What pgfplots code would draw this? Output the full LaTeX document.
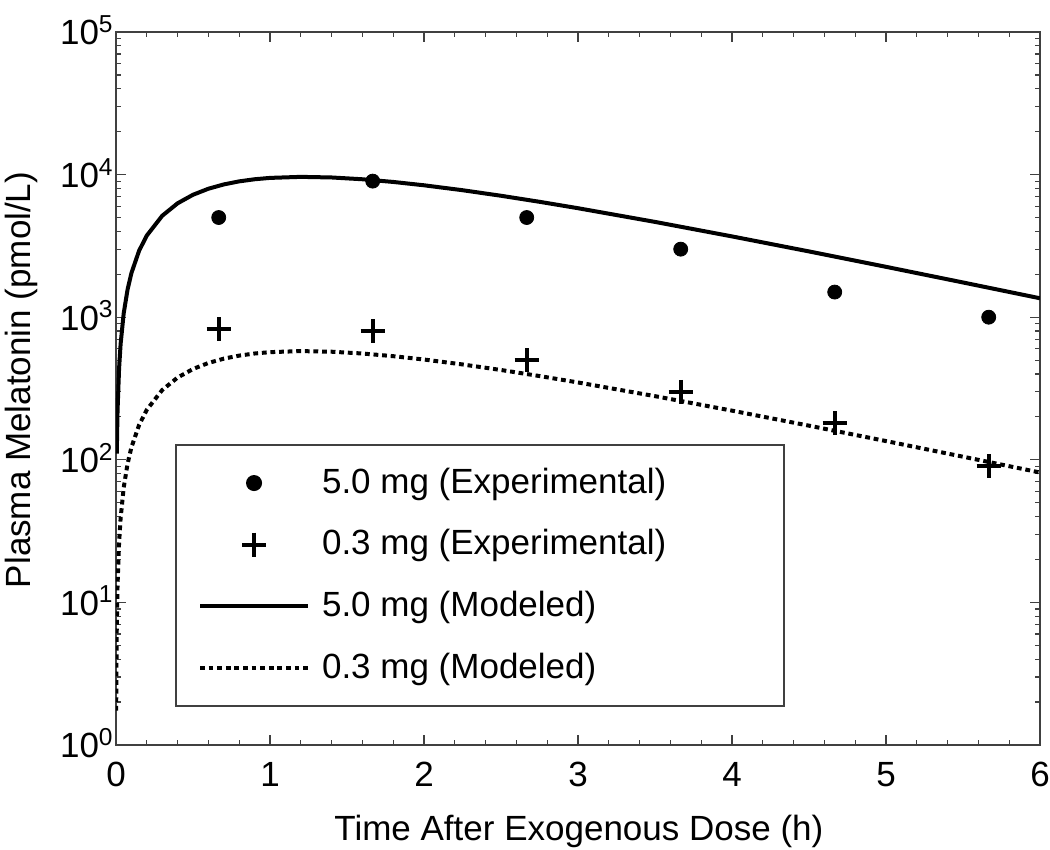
\documentclass[border=0pt]{standalone}
\usepackage{fontspec}
\setmainfont{Liberation Sans}
\usepackage{pgfplots}
\pgfplotsset{compat=1.18}

% 5.0 mg model curve (0.3 mg curve is the same shape, lower)
\pgfplotstableread{
t c
0.005 110.6
0.01 220.2
0.02 436.6
0.03 649.3
0.05 1063.4
0.075 1560.9
0.1 2036.5
0.15 2925.1
0.2 3735.0
0.3 5140.3
0.4 6290.6
0.5 7219.9
0.6 7958.2
0.7 8531.2
0.8 8963.2
0.9 9273.0
1.0 9479.2
1.2 9639.5
1.4 9545.0
1.6 9273.0
1.8 8881.3
2.0 8413.8
2.25 7771.6
2.5 7104.9
2.75 6445.2
3.0 5810.5
3.5 4657.9
4.0 3685.9
4.5 2891.7
5.0 2255.4
5.5 1752.0
6.0 1357.4
}\modelhigh

\pgfplotstableread{
t c
0.0013 1.74
0.002 2.66
0.005 6.64
0.01 13.21
0.02 26.20
0.03 38.96
0.05 63.80
0.075 93.65
0.1 122.19
0.15 175.51
0.2 224.10
0.3 308.42
0.4 377.44
0.5 433.19
0.6 477.49
0.7 511.87
0.8 537.79
0.9 556.38
1.0 568.75
1.2 578.37
1.4 572.70
1.6 556.38
1.8 532.88
2.0 504.83
2.25 466.30
2.5 426.29
2.75 386.71
3.0 348.63
3.5 279.47
4.0 221.15
4.5 173.50
5.0 135.32
5.5 105.12
6.0 81.44
}\modellow

\begin{document}
\fontsize{17.5pt}{20pt}\selectfont
\begin{tikzpicture}[font=\fontsize{17.5pt}{20pt}\selectfont]
\path[use as bounding box] (-58pt,-52.5pt) rectangle (467pt,372.5pt);
\begin{axis}[
    at={(0,0)}, anchor=south west,
    scale only axis, width=462pt, height=356.5pt,
    xmin=0, xmax=6,
    ymode=log, ymin=1, ymax=1e5,
    xtick={0,1,2,3,4,5,6},
    xticklabels={0,1,2,3,4,5,6},
    minor x tick num=4,
    ytick={1,10,100,1000,10000,100000},
    yticklabels={10\textsuperscript{0},10\textsuperscript{1},10\textsuperscript{2},10\textsuperscript{3},10\textsuperscript{4},10\textsuperscript{5}},
    axis line style={black!75, line width=1pt},
    major tick length=5pt, minor tick length=2.5pt,
    every tick/.style={black!75, line width=0.6pt},
    xticklabel style={anchor=base, inner sep=0pt, yshift=-21pt},
    yticklabel style={anchor=base east, inner sep=0pt, xshift=-1pt, yshift=-6.5pt},
    xlabel={Time After Exogenous Dose (h)},
    ylabel={Plasma Melatonin (pmol/L)},
    xlabel style={at={(axis description cs:0.501,0)}, anchor=base, yshift=-48pt},
    ylabel style={at={(axis description cs:-0.1028,0.512)}, anchor=center},
    legend image code/.code={\draw[mark repeat=2,mark phase=2] plot coordinates {(0pt,0pt) (27pt,0pt) (54pt,0pt)};},
    legend cell align=left,
    legend style={at={(0.0639,0.0533)}, anchor=south west,
        draw=black!75, line width=1pt, fill=white,
        inner xsep=11pt, inner ysep=3.5pt,
        row sep=0pt, column sep=6pt,
        nodes={inner sep=0pt, minimum height=30.85pt}},
]
\addplot[only marks, mark=*, mark size=3.5pt, black] coordinates {
    (0.667,5000) (1.667,9000) (2.667,5000) (3.667,3000) (4.667,1500) (5.667,1000)
};
\addlegendentry{\makebox[220pt][l]{5.0 mg (Experimental)}}
\addplot[only marks, mark=+, mark size=6pt, black, mark options={line width=2pt}] coordinates {
    (0.667,820) (1.667,800) (2.667,500) (3.667,300) (4.667,180) (5.667,90)
};
\addlegendentry{0.3 mg (Experimental)}
\addplot[black, line width=2pt] table[x=t, y=c] {\modelhigh};
\addlegendentry{5.0 mg (Modeled)}
\addplot[black, line width=2pt, dash pattern=on 2.4pt off 1.9pt] table[x=t, y=c] {\modellow};
\addlegendentry{0.3 mg (Modeled)}
\end{axis}
\end{tikzpicture}
\end{document}
